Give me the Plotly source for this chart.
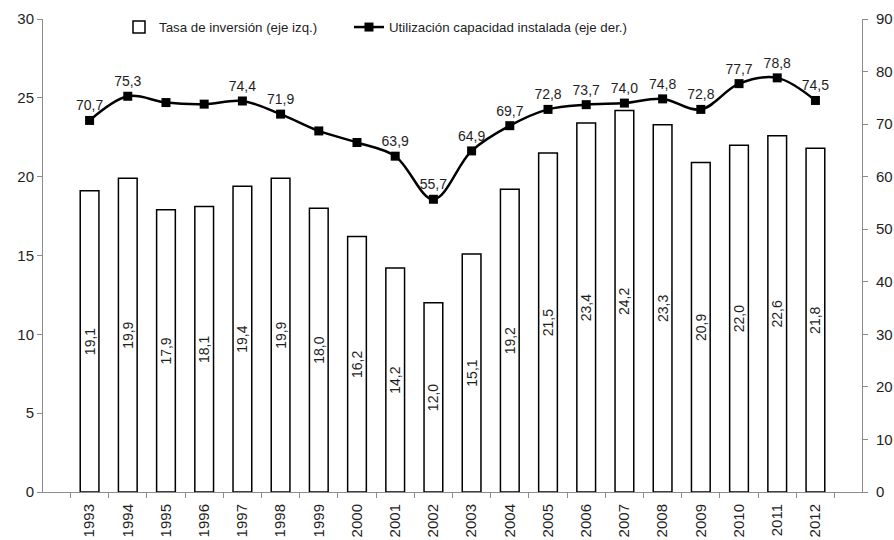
import plotly.graph_objects as go

# Annual series
years = [str(y) for y in range(1993, 2013)]
tasa_inversion = [19.1, 19.9, 17.9, 18.1, 19.4, 19.9, 18.0, 16.2, 14.2, 12.0,
                  15.1, 19.2, 21.5, 23.4, 24.2, 23.3, 20.9, 22.0, 22.6, 21.8]
utilizacion = [70.7, 75.3, 74.1, 73.8, 74.4, 71.9, 68.7, 66.5, 63.9, 55.7,
               64.9, 69.7, 72.8, 73.7, 74.0, 74.8, 72.8, 77.7, 78.8, 74.5]
# Years whose capacity value is printed over the line
util_labeled = [True, True, False, False, True, True, False, False, True, True,
                True, True, True, True, True, True, True, True, True, True]


def fmt(v):
    return f"{v:.1f}".replace(".", ",")


FONT = "Liberation Sans, Arial, sans-serif"
TXT = "#1e1e1e"
AXIS = "#8c8c8c"

fig = go.Figure()

fig.add_trace(go.Bar(
    x=years, y=tasa_inversion,
    name="Tasa de inversión (eje izq.)",
    marker=dict(color="white", line=dict(color="black", width=1.5)),
    text=[fmt(v) for v in tasa_inversion],
    textposition="inside", insidetextanchor="middle", textangle=-90,
    textfont=dict(family=FONT, size=14, color=TXT),
    yaxis="y", legend="legend",
))

fig.add_trace(go.Scatter(
    x=years, y=utilizacion,
    name="Utilización capacidad instalada (eje der.)",
    mode="lines+markers+text",
    line=dict(color="black", width=2.5, shape="spline", smoothing=1.0),
    marker=dict(symbol="square", size=9, color="black"),
    text=[fmt(v) if lab else "" for v, lab in zip(utilizacion, util_labeled)],
    textposition="top center",
    textfont=dict(family=FONT, size=14, color=TXT),
    yaxis="y2", legend="legend2",
))

legend_common = dict(
    orientation="h", y=1.015, xanchor="left", yanchor="top",
    font=dict(family=FONT, size=13.3, color=TXT),
    bgcolor="rgba(0,0,0,0)", itemwidth=30,
)

fig.update_layout(
    width=894, height=540,
    margin=dict(l=43, r=32, t=19, b=48),
    plot_bgcolor="white", paper_bgcolor="white",
    font=dict(family=FONT, size=15, color=TXT),
    bargap=0.51,
    uniformtext=dict(minsize=14, mode="show"),
    showlegend=True,
    legend=dict(x=0.0928, **legend_common),
    legend2=dict(x=0.3736, **legend_common),
    xaxis=dict(
        type="category", tickangle=-90,
        showline=True, linecolor=AXIS, linewidth=1,
        ticks="outside", tickson="boundaries", ticklen=5, tickcolor=AXIS,
        showgrid=False, automargin=False, ticklabelstandoff=5,
        tickfont=dict(family=FONT, size=15, color=TXT),
    ),
    yaxis=dict(
        range=[0, 30], dtick=5,
        showline=True, linecolor=AXIS, linewidth=1,
        ticks="outside", ticklen=5, tickcolor=AXIS,
        showgrid=False, zeroline=False, automargin=False,
        tickfont=dict(family=FONT, size=15, color=TXT),
    ),
    yaxis2=dict(
        range=[0, 90], dtick=10, overlaying="y", side="right",
        showline=True, linecolor=AXIS, linewidth=1,
        ticks="outside", ticklen=5, tickcolor=AXIS,
        showgrid=False, zeroline=False, automargin=False, ticklabelstandoff=5,
        tickfont=dict(family=FONT, size=15, color=TXT),
    ),
)

fig.write_html("out.html")
